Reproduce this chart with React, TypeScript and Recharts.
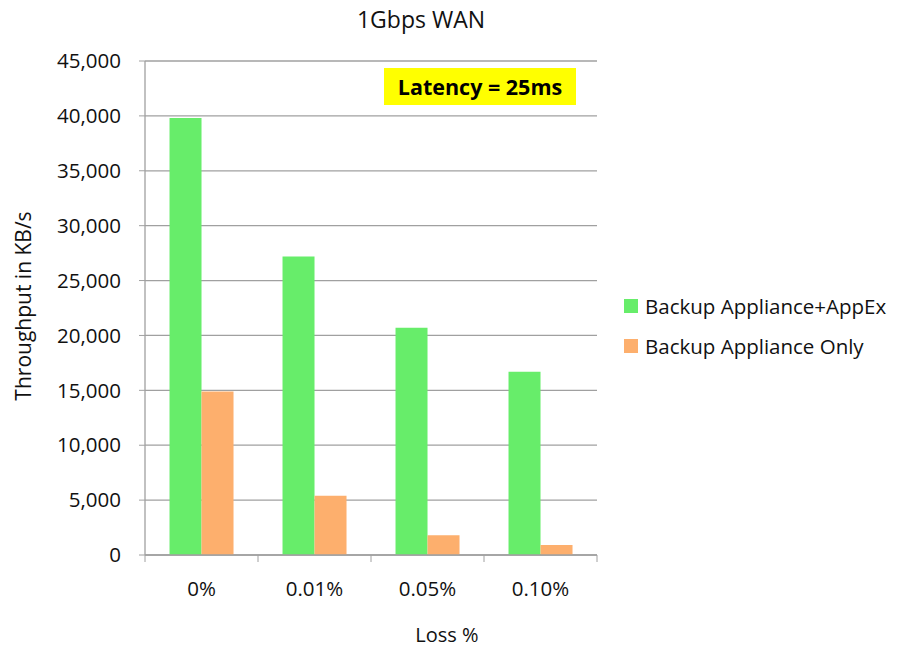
import { BarChart, Bar, XAxis, YAxis, CartesianGrid } from "recharts";

const lossLevels = ["0%", "0.01%", "0.05%", "0.10%"];
const withAppEx = [39800, 27200, 20700, 16700];
const applianceOnly = [14900, 5400, 1800, 900];
const yTicks = [0, 5000, 10000, 15000, 20000, 25000, 30000, 35000, 40000, 45000];

const seriesNames = ["Backup Appliance+AppEx", "Backup Appliance Only"];
const seriesColors = ["#67ED6A", "#FDAF6D"];

const data = lossLevels.map((loss, i) => ({
  loss,
  appex: withAppEx[i],
  only: applianceOnly[i],
}));

const FONT = "'Open Sans', sans-serif";
const GRID = "#A0A0A0";
const INK = "#111";

function LossTick(props: any) {
  const { x, y, payload, index, visibleTicksCount, width } = props;
  const band = width / visibleTicksCount;
  return (
    <g>
      <line x1={x - band / 2} x2={x - band / 2} y1={y - 8} y2={y - 1} stroke={GRID} />
      {index === visibleTicksCount - 1 && (
        <line x1={x + band / 2} x2={x + band / 2} y1={y - 8} y2={y - 1} stroke={GRID} />
      )}
      <text x={x} y={y + 33} textAnchor="middle" fontSize={20.5} fill={INK} fontFamily={FONT}>
        {payload.value}
      </text>
    </g>
  );
}

function LegendBox() {
  return (
    <div style={{ position: "absolute", left: 624, top: 286, fontFamily: FONT, fontSize: 20.5, color: INK }}>
      {seriesNames.map((name, i) => (
        <div key={name} style={{ display: "flex", alignItems: "center", height: 40 }}>
          <span
            style={{ width: 14, height: 14, background: seriesColors[i], marginRight: 7, display: "inline-block" }}
          />
          {name}
        </div>
      ))}
    </div>
  );
}

export default function App() {
  return (
    <div style={{ position: "absolute", left: 0, top: 0, width: 897, height: 648, background: "#fff" }}>
      <div
        style={{ position: "absolute", left: 321, width: 200, top: 7.5, textAlign: "center", fontFamily: FONT, fontSize: 23, lineHeight: 1, color: INK }}
      >
        1Gbps WAN
      </div>
      <BarChart
        width={897}
        height={648}
        data={data}
        margin={{ top: 61, right: 300, left: 25, bottom: 63 }}
        barCategoryGap="21.7%"
        barGap={0}
      >
        <CartesianGrid vertical={false} stroke={GRID} strokeWidth={1.3} />
        <XAxis
          dataKey="loss"
          height={30}
          axisLine={{ stroke: GRID, strokeWidth: 1.3 }}
          tickLine={false}
          tick={<LossTick />}
          interval={0}
        />
        <YAxis
          width={120}
          domain={[0, 45000]}
          ticks={yTicks}
          interval={0}
          tickFormatter={(v: number) => v.toLocaleString("en-US")}
          axisLine={{ stroke: GRID, strokeWidth: 1.3 }}
          tickLine={{ stroke: GRID }}
          tickSize={6}
          tickMargin={18}
          tick={{ fontSize: 20.5, fill: INK, fontFamily: FONT }}
        />
        <Bar dataKey="appex" name={seriesNames[0]} fill={seriesColors[0]} isAnimationActive={false} />
        <Bar dataKey="only" name={seriesNames[1]} fill={seriesColors[1]} isAnimationActive={false} />
      </BarChart>
      <LegendBox />
      <div
        style={{
          position: "absolute",
          left: 384,
          top: 68,
          width: 192,
          height: 37,
          background: "#FFFF00",
          fontFamily: FONT,
          fontWeight: 700,
          fontSize: 21.5,
          lineHeight: "37px",
          textAlign: "center",
          color: "#000",
        }}
      >
        Latency = 25ms
      </div>
      <div
        style={{
          position: "absolute",
          left: 23,
          top: 306,
          transform: "translate(-50%, -50%) rotate(-90deg)",
          whiteSpace: "nowrap",
          fontFamily: FONT,
          fontSize: 21,
          lineHeight: 1,
          color: INK,
        }}
      >
        Throughput in KB/s
      </div>
      <div
        style={{ position: "absolute", left: 347, width: 200, top: 625, textAlign: "center", fontFamily: FONT, fontSize: 20, lineHeight: 1, color: INK }}
      >
        Loss %
      </div>
    </div>
  );
}
